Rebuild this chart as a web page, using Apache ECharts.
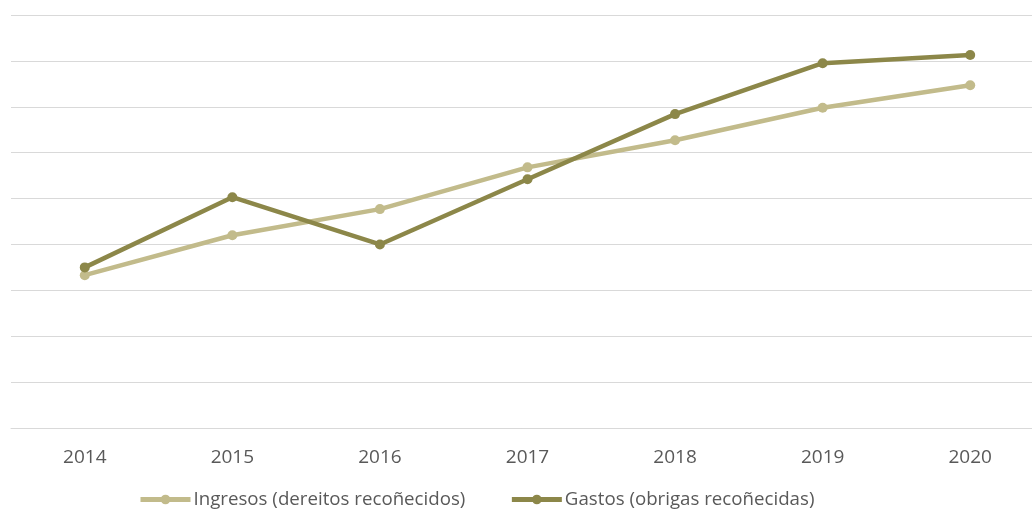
<!DOCTYPE html>
<html>
<head>
<meta charset="utf-8">
<script src="https://cdn.jsdelivr.net/npm/echarts@6/dist/echarts.min.js"></script>
<style>html,body{margin:0;padding:0;background:#fff}#c{width:1032px;height:515px}</style>
</head>
<body>
<div id="c"></div>
<script>
var years = ['2014','2015','2016','2017','2018','2019','2020'];
var ingresos = [3.33, 4.20, 4.77, 5.68, 6.27, 6.98, 7.47];
var gastos = [3.50, 5.03, 4.00, 5.42, 6.84, 7.95, 8.13];
var seriesNames = ['Ingresos (dereitos recoñecidos)', 'Gastos (obrigas recoñecidas)'];

var chart = echarts.init(document.getElementById('c'));
var font = '"Open Sans", sans-serif';
chart.setOption({
  animation: false,
  backgroundColor: '#fff',
  grid: { left: 11, top: 15, width: 1033, height: 413, outerBoundsMode: 'none', containLabel: false },
  legend: {
    top: 485, left: 133,
    itemWidth: 50, itemHeight: 12, itemGap: 44,
    lineStyle: { width: 5 },
    textStyle: { fontFamily: font, fontSize: 18.7, color: '#595959', padding: [0, 0, 0, -2] },
    data: seriesNames
  },
  xAxis: {
    type: 'category', data: years, boundaryGap: true,
    axisLine: { show: true, lineStyle: { color: '#d9d9d9', width: 1 } },
    axisTick: { show: false },
    axisLabel: { margin: 20, fontFamily: font, fontSize: 19, color: '#595959' }
  },
  yAxis: {
    type: 'value', min: 0, max: 9, interval: 1,
    axisLabel: { show: false }, axisLine: { show: false }, axisTick: { show: false },
    splitLine: { lineStyle: { color: '#d9d9d9', width: 1 } }
  },
  series: [
    { name: seriesNames[0], type: 'line', data: ingresos, symbol: 'circle', symbolSize: 10,
      lineStyle: { width: 4.5, color: '#c2bb8b' }, itemStyle: { color: '#c2bb8b' } },
    { name: seriesNames[1], type: 'line', data: gastos, symbol: 'circle', symbolSize: 10,
      lineStyle: { width: 4.5, color: '#8c8749' }, itemStyle: { color: '#8c8749' } }
  ]
});
</script>
</body>
</html>
